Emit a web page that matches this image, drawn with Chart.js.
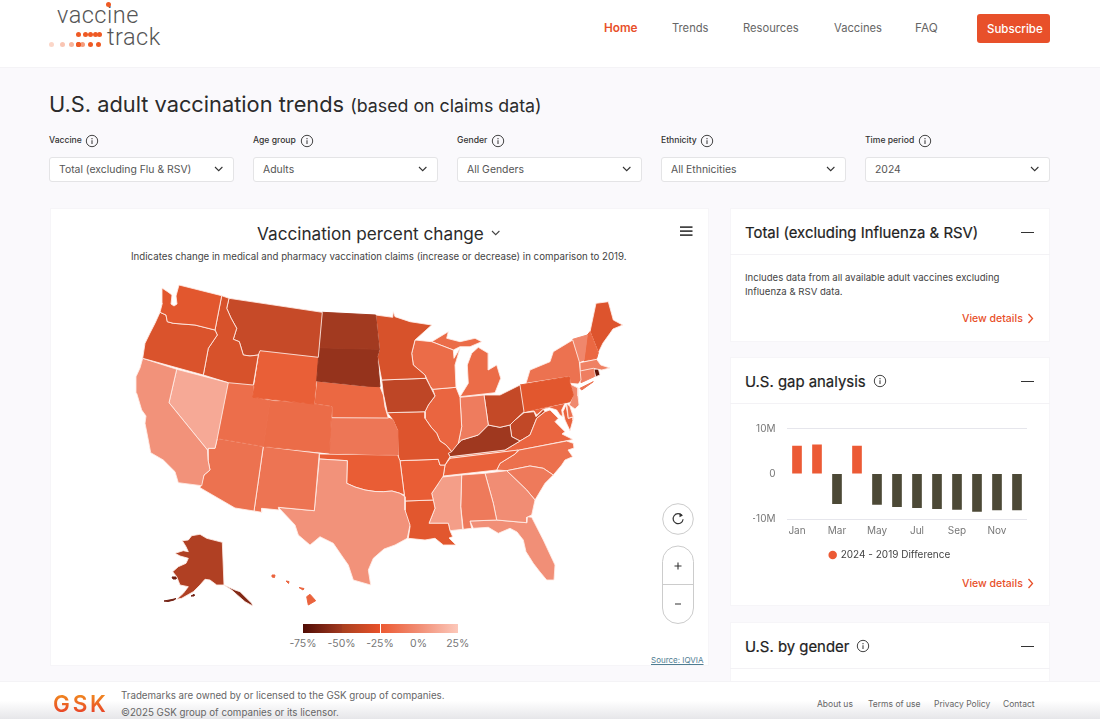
<!DOCTYPE html>
<html><head><meta charset="utf-8"><title>U.S. adult vaccination trends</title>
<script src="https://cdn.jsdelivr.net/npm/chart.js@4"></script>
<style>
html,body{margin:0;padding:0;width:1100px;height:719px;overflow:hidden;background:#faf9fc;font-family:Inter,"Noto Sans",sans-serif;color:#2b2b2b}
.box{position:absolute;background:#fff;box-sizing:border-box}
.t{position:absolute;white-space:nowrap;line-height:20px;transform:translateY(-10px)}
canvas{position:absolute}
svg{position:absolute;overflow:visible}
.sel{position:absolute;top:157px;width:185px;height:25px;background:#fff;border:1px solid #e4e4e6;border-radius:3px;box-sizing:border-box}
.dot{position:absolute;border-radius:50%;background:#ef5a24}
</style></head><body>
<div class="box" style="left:0;top:0;width:1100px;height:68px;border-bottom:1px solid #f4f3f6"></div>
<div id="ui"></div>
<canvas id="map" style="left:60px;top:275px"></canvas>
<canvas id="gap" style="left:753px;top:411px"></canvas>
<script>
// ---------- map: state outlines (map units) and values ----------
const WA=[[162,288],[168,292],[172,295],[171,304],[174,306],[177,304],[176,296],[179,285],[221.7,295.7],[215,330],[195,325],[173.3,323.3],[167.3,321.7],[166,315],[160,312.3],[162.3,303.3],[162,288]];
const OR=[[160,312.3],[166,315],[167.3,321.7],[173.3,323.3],[195,325],[215,330],[217.3,335],[208.3,348.3],[203.3,375],[142.7,358.3],[145,343.3],[150,333],[155,323.3],[160,312.3]];
const CA=[[142.7,358.3],[176.7,369.3],[169,402.7],[207.5,450],[208,460],[210,470],[204,475],[201.7,485.7],[178.3,482.7],[175,471.7],[163.3,460],[150.7,452.7],[148.3,440],[145,423.3],[146,416],[141.7,410],[136.7,393.3],[136,376.7],[140,368],[142.7,358.3]];
const NV=[[176.7,369.3],[228.3,382.7],[217.3,438.3],[215,448.3],[208.3,448.3],[207.5,450],[169,402.7],[176.7,369.3]];
const ID=[[221.7,295.7],[229,298.3],[226.7,308.3],[231,318],[236.7,328.3],[233.3,339.3],[239.3,341.7],[243.3,355],[250,356],[258.3,355],[253.3,385],[228.3,382.7],[203.3,375],[208.3,348.3],[217.3,335],[215,330],[221.7,295.7]];
const MT=[[229,298.3],[322.3,312.3],[318.3,357.3],[260,350.7],[258.3,355],[250,356],[243.3,355],[239.3,341.7],[233.3,339.3],[236.7,328.3],[231,318],[226.7,308.3],[229,298.3]];
const ND=[[322.3,312.3],[375.7,315],[379.3,349.3],[319.3,347.7],[322.3,312.3]];
const SD=[[319.3,347.7],[379.3,349.3],[377.3,356.7],[380,386.7],[365,386],[316.7,381],[319.3,347.7]];
const WY=[[260,350.7],[318.3,357.3],[314,404],[252.7,397.3],[260,350.7]];
const UT=[[228.3,382.7],[253.3,385],[252.7,397.3],[270,400.7],[263.3,446.3],[217.3,438.3],[228.3,382.7]];
const CO=[[270,400.7],[314,404],[331.7,406.7],[329.3,453],[263.3,446.3],[270,400.7]];
const NE=[[316.7,381],[365,386],[372,385],[380,386.7],[383.3,395],[385,407],[388.3,418],[331.7,417.7],[331.7,406.7],[314,404],[316.7,381]];
const KS=[[331.7,417.7],[388.3,418],[393,420],[397.3,430],[397.7,455],[329.3,453.3],[331.7,417.7]];
const AZ=[[217.3,438.3],[263.3,446.3],[254,511],[235,508],[200,487.7],[204,475],[210,470],[208,460],[208.3,448.3],[215,448.3],[217.3,438.3]];
const NM=[[263.3,446.3],[319.3,453.3],[314.3,510.7],[278.3,507.3],[279,510],[261.7,508.3],[261.7,512.3],[254,511],[263.3,446.3]];
const TX=[[319.3,459],[347.3,460.7],[346.7,483.3],[355,487],[365,490],[375,491.5],[383.3,491.7],[392,491],[400,493.3],[405,496.7],[405,510],[410,525],[407.3,538.3],[395,545],[384,549],[373.3,558.3],[368.3,570],[370.7,585],[353.3,580],[348.3,565],[342,556],[333.3,543.3],[320,536.7],[310,545],[298.3,535],[295,525],[278.3,507.3],[314.3,510.7],[319.3,459]];
const OK=[[319.3,454],[397.7,455],[400,460.7],[404.3,495],[400,493.3],[392,491],[383.3,491.7],[375,491.5],[365,490],[355,487],[346.7,483.3],[347.3,460.7],[319.3,459],[319.3,454]];
const MN=[[375.7,315],[392.7,317.3],[393.3,311.7],[395,316.7],[410,321.7],[431.7,325],[415,340],[411.7,353.3],[413.3,365],[425,375],[426,378.3],[381.7,380],[377.3,356.7],[379.3,349.3],[375.7,315]];
const IA=[[381.7,380],[426,378.3],[430,386],[435,396],[428.3,405],[425,411.7],[387.3,412.7],[383.3,393.3],[381.7,380]];
const MO=[[387.3,412.7],[425,411.7],[425,418.3],[431,427],[436.7,433.3],[440,441],[446,445],[451.7,451.7],[448.3,453.3],[450,456.7],[445,465],[440,465],[438.3,459.3],[398.3,460.7],[397.3,430],[393,420],[387.3,412.7]];
const AR=[[400,460.7],[438.3,459.3],[440,465],[445,465],[443.3,476],[438,484],[431.7,493.3],[433.3,500],[405,501],[404.3,495],[400,460.7]];
const LA=[[405,501],[433.3,500],[435,508.3],[429,523.3],[448.3,523.3],[450,530.7],[452.7,536.7],[449,538],[456,545],[443.3,545],[435,538.3],[425,540],[408.3,538.3],[410,526.7],[405,513.3],[405,501]];
const WI=[[415,340],[431.7,341.7],[453.3,350],[454,358.3],[460,348.3],[455,365],[456,387.3],[432.7,389.3],[430,386],[425,375],[413.3,365],[411.7,353.3],[415,340]];
const MI_U=[[431.7,341.7],[448.3,331.7],[446.7,338.3],[460,341.7],[475,338.3],[481.7,341.7],[470,346.7],[460,346.7],[453.3,350],[431.7,341.7]];
const MI_L=[[467.3,365],[471.7,353.3],[478.3,347.3],[488.3,353.3],[488.3,370],[496.7,365],[500.7,378.3],[495,392.7],[460,396.7],[468.3,383.3],[467.3,365]];
const IL=[[432.7,389.3],[456,387.3],[460,397.3],[461.7,426.7],[458.3,443.3],[451.7,451.7],[446,445],[440,441],[436.7,433.3],[431,427],[425,418.3],[425,411.7],[428.3,405],[435,396],[432.7,389.3]];
const IN=[[460,397.3],[484,395],[488.3,425],[478.3,435],[461.7,440],[458.3,443.3],[461.7,426.7],[460,397.3]];
const OH=[[484,395],[500,395],[520,385],[524,411.7],[515,420],[510,425],[500,427.3],[488.3,425],[484,395]];
const KY=[[448.3,453.3],[458.3,443.3],[461.7,440],[478.3,435],[488.3,425],[500,427.3],[510,425],[511.7,436.7],[520,441],[505,450],[450,456.7],[448.3,453.3]];
const TN=[[450,458.3],[518.3,450],[515,454],[500,463.3],[496.7,470],[443.3,476],[445,465],[450,458.3]];
const MS=[[440,477.3],[461.7,475],[460.7,506.7],[462.7,529.3],[450,530.7],[448.3,523.3],[429,523.3],[435,508.3],[431.7,493.3],[438,484],[440,477.3]];
const AL=[[461.7,475],[485,473.3],[493.3,503.3],[496.7,520],[470,521],[471.7,528.3],[463.3,529.3],[460.7,506.7],[461.7,475]];
const GA=[[485,473.3],[506.7,470.7],[526.7,490],[535,500],[531.7,515],[526.7,517.3],[526.7,522.7],[496.7,520],[493.3,503.3],[485,473.3]];
const FL=[[470,521],[496.7,520],[526.7,522.7],[527.3,516.7],[531.7,517.3],[543.3,540],[555,565],[554,580],[546.7,580],[540,572],[533.3,563.3],[526,551.7],[523.3,540],[517,532],[510,528.3],[498.3,533.3],[488.3,527.3],[473.3,528.3],[470,521]];
const SC=[[506.7,470.7],[530,466],[543.3,468.3],[553.3,475],[545,483.3],[535,500],[526.7,490],[506.7,470.7]];
const NC=[[519.3,450],[566.7,441],[573.3,443.3],[574,448],[568,450],[572.7,456.7],[565,460],[561.7,465],[553.3,475],[543.3,468.3],[530,466],[506.7,470.7],[496.7,470],[500,463.3],[515,454],[519.3,450]];
const VA=[[505,450],[520,441],[530,435],[536.7,418.3],[545,411.7],[550,410],[558.3,418.3],[555,421.7],[565,431.7],[562,434],[573,439.5],[520,450],[450,458.3],[450,456.7],[505,450]];
const WV=[[515,420],[524,412.7],[534,411.7],[536,416.7],[543.3,409.3],[545,411.7],[536.7,418.3],[530,435],[520,441],[511.7,436.7],[510,425],[515,420]];
const PA=[[520,385],[569.3,376.7],[570,383.3],[573.3,395],[570,401.7],[524,411.7],[520,385]];
const NY=[[526,383.3],[530,370],[550,361.7],[553.3,351.7],[572.7,340],[579.3,361.7],[581,380],[578.3,384],[570,383.3],[569.3,376.7],[526,383.3]];
const LI=[[580,388.3],[593.3,381.7],[581.7,390],[580,388.3]];
const VT=[[572.7,339.3],[587.3,335],[584,360],[579.3,361.7],[572.7,339.3]];
const NH=[[587.3,335],[590,331.7],[598.3,352.7],[596.7,358.3],[584,360.7],[587.3,335]];
const ME=[[590,331.7],[596,303.3],[608.3,301.7],[613.3,320],[622.7,325],[613,329],[610,333.3],[603,343],[598.3,352.7],[590,331.7]];
const MA=[[580,362.7],[596.7,359.3],[600.7,365],[610,368],[601.7,370],[593.3,368.3],[580,371],[580,362.7]];
const CT=[[580,371],[593.5,368.3],[594.5,376.5],[581,382.7],[580,371]];
const RI=[[594,369.3],[598.3,368.7],[600,375],[595.7,376.7],[594,369.3]];
const NJ=[[570,384],[578,388],[578,396],[579,405],[575,409],[569.3,405],[573,395],[570,384]];
const DE=[[566.7,403.3],[570,406.7],[573.3,416.7],[568.3,418.3],[566.7,403.3]];
const MD=[[524,411.7],[565,403.3],[561.7,410],[562.7,416.7],[560,415],[556.7,410],[549.3,407.7],[543.3,409.3],[536.7,415],[534,411],[524,411.7]];
const MD_E=[[566,405],[568.3,418.3],[573.3,417],[573,420],[570,430.7],[565,420],[563,411.7],[566,405]];
const AK=[[182.3,540.7],[188.3,540],[191.7,535.7],[200,534.3],[206.7,538.3],[222.3,542.3],[224,585],[216.7,585],[210,580],[205,579.3],[200,585],[193.3,591.7],[181.7,598.3],[176.7,599.3],[183.3,593.3],[188.3,586.7],[180,585],[176.7,576.7],[172.7,571.7],[178.3,566.7],[186,563.3],[188.3,558.3],[180,556],[175,553.3],[183.3,550.7],[188.3,551.7],[186,546.7],[182.3,540.7]];
const AK_P=[[224,585],[235,590],[240,591.7],[251.7,603.3],[252.7,606],[245,601.7],[237.3,595],[231.7,590],[224,585]];
const AK_A=[[164,601],[172,599.5],[176,598.5],[174,600],[168,601.5],[164,601]];
const AK_K=[[191,596],[194,594.5],[194,596],[191,596]];
const AK_N=[[172,577],[176,577],[176,579],[173,579],[172,577]];
const HI_B=[[306.7,596.7],[310,594.3],[315.7,600.7],[308.3,605],[306.7,596.7]];
const HI_M=[[299,587.5],[304,588.5],[303,590],[299,587.5]];
const HI_O=[[286,581],[289,581.5],[288.5,583.5],[286,581]];
const HI_K=[[272,575],[275,575],[274.5,577.5],[272,577],[272,575]];

const stateShapes=[WA,OR,CA,NV,ID,MT,ND,SD,WY,UT,CO,NE,KS,AZ,NM,TX,OK,MN,IA,MO,AR,LA,WI,MI_U,MI_L,IL,IN,OH,KY,TN,MS,AL,GA,FL,SC,NC,VA,WV,PA,NY,LI,VT,NH,ME,MA,CT,RI,NJ,DE,MD,MD_E,AK,AK_P,AK_A,AK_K,AK_N,HI_B,HI_M,HI_O,HI_K];
const stateNames=["WA","OR","CA","NV","ID","MT","ND","SD","WY","UT","CO","NE","KS","AZ","NM","TX","OK","MN","IA","MO","AR","LA","WI","MI","MI","IL","IN","OH","KY","TN","MS","AL","GA","FL","SC","NC","VA","WV","PA","NY","NY","VT","NH","ME","MA","CT","RI","NJ","DE","MD","MD","AK","AK","AK","AK","AK","HI","HI","HI","HI"];
const stateChange=[-27,-30,2,12,-31,-37,-50,-54,-22,-15,-16,-18,-11,-13,-12,2,-23,-31,-40,-29,-23,-27,-16,-16,-16,-19,-8,-38,-51,-21,7,-9,0,1,-9,-14,-19,-39,-27,-13,-13,-3,-18,-29,-6,-7,-72,-2,-13,-20,-20,-45,-60,-65,-65,-65,-20,-20,-20,-20];

// colour ramp of the map and of its legend
const legendTicks=[-75,-50,-25,0,25];
const mapRamp=["#500c05","#a23a20","#e8592f","#f18d74","#fcc8ba"];
const legendRamp=["#500c05","#a23a20","#a8401f","#e8512a","#ec5a33","#f18d74","#f18d74","#fcc8ba"];
function hex(c){return [1,3,5].map(i=>parseInt(c.substr(i,2),16));}
function colorFor(v){
  let i=0;while(i<legendTicks.length-2&&v>legendTicks[i+1])i++;
  const f=Math.max(0,Math.min(1,(v-legendTicks[i])/(legendTicks[i+1]-legendTicks[i])));
  const a=hex(mapRamp[i]),b=hex(mapRamp[i+1]);
  return "rgb("+a.map((x,k)=>Math.round(x+(b[k]-x)*f)).join(",")+")";
}

// ---------- gap chart ----------
const gapMonths=["Jan","Feb","Mar","Apr","May","Jun","Jul","Aug","Sep","Oct","Nov","Dec"];
const gapValues=[6.1,6.4,-6.6,6.1,-6.8,-7.3,-7.5,-7.7,-7.9,-8.3,-8.0,-8.0];
const gapLabel="2024 - 2019 Difference";

Chart.defaults.font.family='Inter,"Noto Sans",sans-serif';
Chart.defaults.animation=false;

function setSize(id,w,h){const c=document.getElementById(id);c.width=w;c.height=h;c.style.width=w+"px";c.style.height=h+"px";return c;}

new Chart(setSize("map",600,340),{type:"scatter",
 data:{datasets:stateShapes.map((s,i)=>({label:stateNames[i],data:s,showLine:true,fill:"shape",tension:0,
   backgroundColor:colorFor(stateChange[i]),borderColor:s.length<8&&stateNames[i]!="RI"&&stateNames[i]!="DE"?colorFor(stateChange[i]):"rgba(255,236,230,.85)",borderWidth:1,pointRadius:0,pointHoverRadius:0}))},
 options:{responsive:false,animation:false,events:[],layout:{padding:0,autoPadding:false},
  plugins:{legend:{display:false},tooltip:{enabled:false}},
  scales:{x:{type:"linear",display:false,min:60,max:660},y:{type:"linear",display:false,min:275,max:615,reverse:true}}}});

new Chart(setSize("gap",274,159),{type:"bar",
 data:{labels:gapMonths,datasets:[{label:gapLabel,data:gapValues,barThickness:9,
   backgroundColor:gapValues.map(v=>v>=0?"#ec5a35":"#4c4936")}]},
 options:{responsive:false,animation:false,events:[],layout:{autoPadding:false,padding:{top:10.7,right:0,left:0,bottom:0}},
  plugins:{tooltip:{enabled:false},legend:{position:"bottom",onClick:null,labels:{usePointStyle:true,pointStyle:"circle",boxWidth:6,boxHeight:6,padding:5,color:"#444",font:{size:10}}}},
  scales:{
   x:{grid:{display:false,drawTicks:false},border:{display:false},afterFit:s=>{s.height=26;},
      ticks:{color:"#777",font:{size:10},maxRotation:0,autoSkip:false,padding:6,callback(v,i){return i%2?"":gapMonths[i];}}},
   y:{min:-10,max:10,afterFit:s=>{s.width=34;},border:{display:false},
      grid:{drawTicks:false,color:c=>c.tick.value===0?"rgba(0,0,0,0)":"#e6e6ec"},
      ticks:{stepSize:10,color:"#777",font:{size:10},padding:11.5,callback:v=>v===0?"0":(v<0?"−":"")+Math.abs(v)+"M"}}}}});

// ---------- page furniture ----------
const ui=document.getElementById("ui");
function el(html){ui.insertAdjacentHTML("beforeend",html);}
function box(x,y,w,h,extra){el(`<div class="box" style="left:${x}px;top:${y}px;width:${w}px;height:${h}px;${extra||""}"></div>`);}
function txt(x,y,s,size,color,extra){el(`<div class="t" style="left:${x}px;top:${y}px;font-size:${size}px;color:${color};${extra||""}">${s}</div>`);}
function info(x,y){el(`<svg style="left:${x-7}px;top:${y-7}px" width="14" height="14"><circle cx="7" cy="7" r="5.7" fill="none" stroke="#444" stroke-width="1"/><path d="M7 6.2V10M7 4v1.2" stroke="#444" stroke-width="1.1"/></svg>`);}
function chev(x,y,c,w){el(`<svg style="left:${x}px;top:${y}px" width="12" height="10"><path d="M1 2l${w||3.7} 3.7 ${w||3.7}-3.7" fill="none" stroke="${c}" stroke-width="1.1"/></svg>`);}
function rchev(x,y){el(`<svg style="left:${x}px;top:${y-5}px" width="8" height="11"><path d="M1.5 1l4 4.5-4 4.5" fill="none" stroke="#e8502a" stroke-width="1.3"/></svg>`);}

// logo
txt(57,15,"vaccine",23.5,"#555","font-family:Roboto;font-weight:300;letter-spacing:.5px");
txt(107,37,"track",23.5,"#555","font-family:Roboto;font-weight:300;letter-spacing:.5px");
el('<div class="dot" style="left:106px;top:2px;width:5px;height:5px"></div>');
[[50,44,.25],[61,44,.35],[70,44,.45],[77,44,1],[81,44,.6],[89,44,1],[97,44,1],[77,34,1],[84,34,1],[89,34,1],[94,34,1],[98,34,1],[77,44,1]].forEach(d=>
 el(`<div class="dot" style="left:${d[0]-1}px;top:${d[1]-2}px;width:5px;height:5px;opacity:${d[2]}"></div>`));

// nav
txt(604,28,"Home",11.8,"#e8502a","font-weight:600");
txt(672,28,"Trends",11.2,"#666");txt(743,28,"Resources",11.2,"#666");txt(834,28,"Vaccines",11.2,"#666");txt(915,28,"FAQ",11.8,"#666");
box(977,14,73,29,"background:#e8502a;border-radius:3px");
txt(987,28.5,"Subscribe",11.5,"#fff","font-weight:500");

// heading
txt(49,104,'U.S. adult vaccination trends <span style="font-size:17.8px">(based on claims data)</span>',21.8,"#2b2b2b");

// filters
const filterLabels=["Vaccine","Age group","Gender","Ethnicity","Time period"];
const filterValues=["Total (excluding Flu &amp; RSV)","Adults","All Genders","All Ethnicities","2024"];
const filterX=[49,253,457,661,865],infoX=[91.5,307,498,707,925];
filterLabels.forEach((l,i)=>{
 txt(filterX[i],140,l,8.6,"#333","font-weight:500");info(infoX[i],140.5);
 el(`<div class="sel" style="left:${filterX[i]}px"></div>`);
 txt(filterX[i]+10,169.5,filterValues[i],10.4,"#555");
 chev(filterX[i]+164.5,165,"#333");
});

// map card
box(50,208,659,458,"border:1px solid #f6f5f8");
txt(257,233.5,"Vaccination percent change",17.2,"#2b2b2b");
chev(491,229,"#444");
txt(131,257,"Indicates change in medical and pharmacy vaccination claims (increase or decrease) in comparison to 2019.",9.7,"#444");
el('<svg style="left:680px;top:226px" width="13" height="11"><path d="M0 1.2h12.5M0 5.2h12.5M0 9.2h12.5" stroke="#444" stroke-width="1.7"/></svg>');
// controls
el(`<svg style="left:662px;top:503px" width="32" height="122"><circle cx="16" cy="16" r="15.3" fill="#fff" stroke="#ccc"/><path d="M20 12.5a5 5 0 1 0 1.1 3.8" fill="none" stroke="#333" stroke-width="1.2"/><path d="M17.5 10l3.4 2.6-3.4 1.6z" fill="#333"/>
<rect x=".5" y="43" width="31" height="77.5" rx="15.5" fill="#fff" stroke="#ccc"/><path d="M.5 81.5h31" stroke="#ccc"/><path d="M12.5 63h7M16 59.5v7M13 101h6" stroke="#333" stroke-width="1.1"/></svg>`);
// legend of colour ramp
const legendX=[303,341.5,380,418.5,457.7];
for(let i=0;i<4;i++){
 el(`<div style="position:absolute;left:${legendX[i]+(i?.5:0)}px;top:623.5px;width:${legendX[i+1]-legendX[i]-(i?.5:0)}px;height:9px;background:linear-gradient(90deg,${legendRamp[i*2]},${legendRamp[i*2+1]})"></div>`);
}
legendTicks.forEach((v,i)=>el(`<div class="t" style="left:${legendX[i]}px;top:644px;font-size:10.5px;color:#777;transform:translate(-50%,-10px)">${v}%</div>`));
txt(651,660,"Source: IQVIA",8,"#4f7d92","text-decoration:underline");

// right cards
function card(y,h,title,iconX){
 box(730,y,320,h,"border:1px solid #f6f5f8");
 el(`<div style="position:absolute;left:730px;top:${y+46}px;width:320px;height:1px;background:#f3f2f5"></div>`);
 txt(745,y+24.5,title,14.9,"#222","font-weight:400;-webkit-text-stroke:.2px #222");
 el(`<div style="position:absolute;left:1021px;top:${y+24}px;width:13px;height:1.4px;background:#333"></div>`);
 if(iconX)info(iconX,y+23.5);
}
card(208,134,"Total (excluding Influenza &amp; RSV)");
txt(745,278,"Includes data from all available adult vaccines excluding",9.6,"#444");
txt(745,291.5,"Influenza &amp; RSV data.",9.6,"#444");
txt(962,318.5,"View details",10.5,"#e8502a","font-weight:500");rchev(1027,318);
card(357,249,"U.S. gap analysis",879.5);
txt(962,583.5,"View details",10.5,"#e8502a","font-weight:500");rchev(1027,583);
card(622,80,"U.S. by gender",862.5);

// footer
box(0,681,1100,38,"border-top:1px solid #f4f3f6;background:linear-gradient(#fff 0,#fff 50%,#e6e6e9 100%)");
txt(53,704,"GSK",22.5,"#ef6a1f","font-weight:600;letter-spacing:2.8px;background:linear-gradient(#f08a1f,#e8402a);-webkit-background-clip:text;background-clip:text;color:transparent");
txt(121,696,"Trademarks are owned by or licensed to the GSK group of companies.",9.75,"#666");
txt(121,712.5,"©2025 GSK group of companies or its licensor.",9.75,"#666");
txt(817,704,"About us",8.5,"#666");txt(868,704,"Terms of use",8.5,"#666");txt(934,704,"Privacy Policy",8.5,"#666");txt(1003,704,"Contact",8.5,"#666");
</script>
</body></html>
